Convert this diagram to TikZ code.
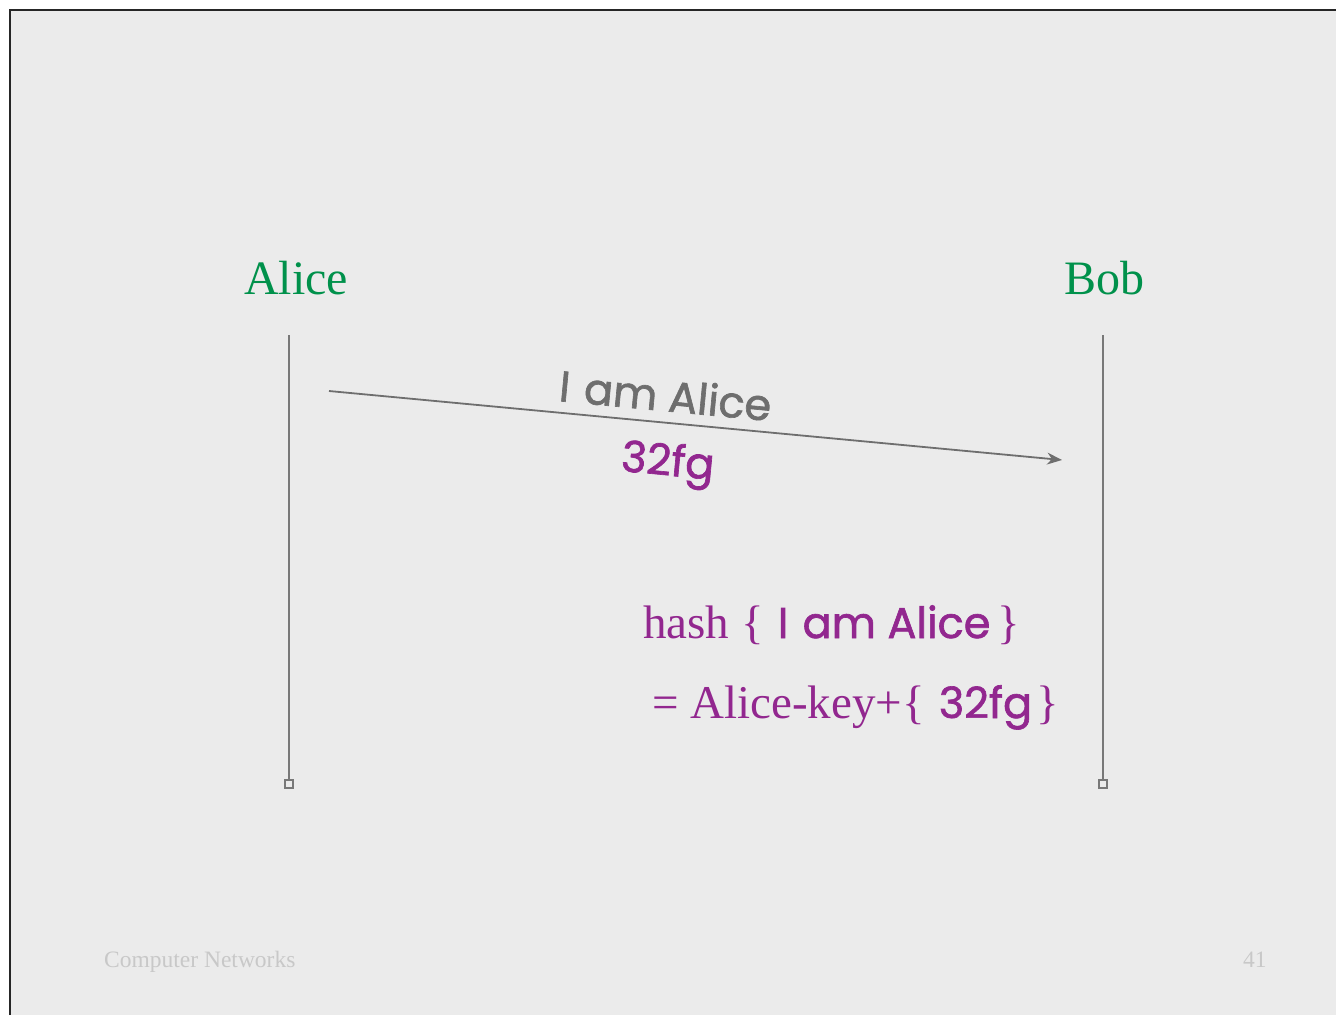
\documentclass[tikz,border=0pt]{standalone}
\usepackage{fontspec}
\setmainfont{Liberation Serif}
\newfontfamily\comicf[FakeBold=1.5]{Poppins}
\usetikzlibrary{arrows.meta}
\definecolor{bgc}{RGB}{235,235,235}
\definecolor{alicegreen}{RGB}{0,145,75}
\definecolor{mypurple}{RGB}{146,39,143}
\definecolor{linegray}{RGB}{120,120,120}
\definecolor{msggray}{RGB}{110,110,110}
\definecolor{footgray}{RGB}{200,200,200}
\newcommand{\comicsz}{\comicf\fontsize{43}{50}\selectfont}
\tikzset{
  actor/.style={text=alicegreen, font=\fontsize{48}{56}\selectfont, inner sep=0pt, anchor=base west},
  lifeline/.style={draw=linegray, line width=2pt},
  endsq/.style={draw=linegray, line width=1.6pt, minimum size=8pt, inner sep=0pt, fill=bgc},
  msg/.style={draw=msggray, line width=1.8pt, -{Stealth[length=15pt,width=12pt]}},
  comic/.style={inner sep=0pt, anchor=base west, font=\comicsz},
  serifp/.style={inner sep=0pt, anchor=base west, text=mypurple, font=\fontsize{47}{54}\selectfont},
  foot/.style={inner sep=0pt, anchor=base west, text=footgray, font=\fontsize{23.5}{27}\selectfont}
}
\begin{document}
\begin{tikzpicture}[x=1pt,y=-1pt]
\useasboundingbox (0,0) rectangle (1336,1015);
\fill[white] (0,0) rectangle (1336,1015);
\fill[bgc] (10,10) rectangle (1336,1015);
\draw[line width=2pt, black!85] (10,1015) -- (10,10) -- (1336,10);

\node[actor] (alice) at (244,294) {Alice};
\node[actor] (bob) at (1064,294) {Bob};

\coordinate (atop) at (289,335);
\coordinate (btop) at (1103,335);
\node[endsq] (aend) at (289,784) {};
\node[endsq] (bend) at (1103,784) {};
\draw[lifeline] (atop) -- (aend.north);
\draw[lifeline] (btop) -- (bend.north);

\coordinate (ms) at (329,391);
\coordinate (me) at (1062,460);
\draw[msg] (ms) -- (me);

\node[comic, text=msggray, rotate=-5.4] (iam) at (558,401) {I\,\,am Alice};
\node[comic, text=mypurple, rotate=-5.4] (code) at (620,471) {32fg};

\node[serifp] (hash) at (643,638) {hash \{\hspace{0.3em}{\comicsz I\,\,am Alice}\hspace{0.15em}\}};
\node[serifp] (eq) at (652,718) {= Alice-key+\{\hspace{0.3em}{\comicsz 32fg}\hspace{0.1em}\}};

\node[foot] (cn) at (104,967) {Computer Networks};
\node[foot] (pg) at (1243,967) {41};
\end{tikzpicture}
\end{document}
